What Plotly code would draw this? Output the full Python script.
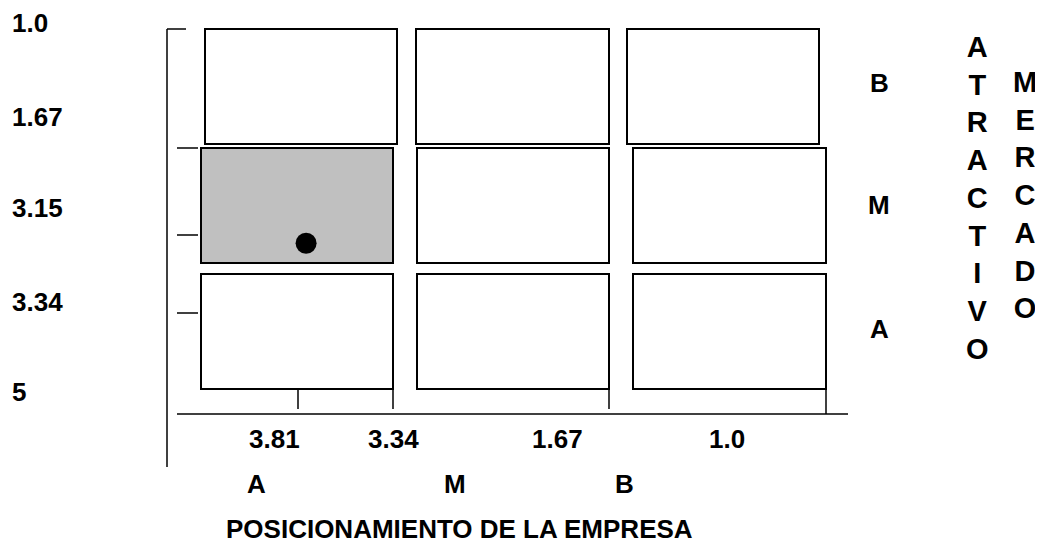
import plotly.graph_objects as go
import numpy as np

# ---------------- data ----------------
pos_tick_labels = ["3.81", "3.34", "1.67", "1.0"]      # posicionamiento de la empresa
pos_tick_values = [3.81, 3.34, 1.67, 1.0]
pos_categories = ["A", "M", "B"]
attr_tick_labels = ["1.0", "1.67", "3.15", "3.34", "5"]  # atractivo del mercado
attr_tick_values = [1.0, 1.67, 3.15, 3.34, 5.0]
attr_categories = ["B", "M", "A"]                        # top to bottom
highlight_cell = ("M", "A")                              # (row attractiveness, column position)
company_position = [3.77]
company_attractiveness = [3.17]

# ---------------- layout geometry (styling) ----------------
W, H = 1043, 550
PAGE_OFF = 8  # browser body margin
FONT = "Liberation Sans, Arial, sans-serif"
# pixel positions of the scale ticks
pos_tick_px = [298, 393, 609, 826]
attr_tick_px = [29, 148, 235, 313, 413]
# cell rectangles per row (x0, x1 for each column), row y extents
row_y = [(29, 144), (148, 263), (274, 389)]
row_cols = [
    [(205, 397), (416, 609), (627, 819)],
    [(201, 393), (417, 609), (633, 826)],
    [(201, 393), (417, 609), (633, 826)],
]


def pos_scale(v):
    xs = np.array(pos_tick_values[::-1])
    ps = np.array(pos_tick_px[::-1])
    return float(np.interp(v, xs, ps))


def attr_scale(v):
    return float(np.interp(v, attr_tick_values, attr_tick_px))


fig = go.Figure()
shapes = []
line_c = "black"

# cells
for r, rc in enumerate(attr_categories):
    y0, y1 = row_y[r]
    for c, cc in enumerate(pos_categories):
        x0, x1 = row_cols[r][c]
        fill = "#c0c0c0" if (rc, cc) == highlight_cell else "white"
        shapes.append(dict(type="rect", xref="x", yref="y", x0=x0, x1=x1, y0=y0, y1=y1,
                           line=dict(color=line_c, width=2), fillcolor=fill, layer="below"))

# vertical axis (attractiveness)
shapes.append(dict(type="line", x0=167, x1=167, y0=29, y1=467, line=dict(color=line_c, width=1.5)))
shapes.append(dict(type="line", x0=167, x1=186, y0=attr_tick_px[0], y1=attr_tick_px[0],
                   line=dict(color=line_c, width=1.5)))
for yp in attr_tick_px[1:4]:
    shapes.append(dict(type="line", x0=177, x1=198, y0=yp, y1=yp, line=dict(color=line_c, width=1.5)))

# horizontal axis (position)
shapes.append(dict(type="line", x0=177, x1=848, y0=attr_tick_px[-1] + 1, y1=attr_tick_px[-1] + 1,
                   line=dict(color=line_c, width=1.5)))
for i, xp in enumerate(pos_tick_px):
    y_end = 414 if i == len(pos_tick_px) - 1 else 409
    shapes.append(dict(type="line", x0=xp, x1=xp, y0=389, y1=y_end, line=dict(color=line_c, width=1.5)))

# company point
fig.add_trace(go.Scatter(
    x=[pos_scale(v) for v in company_position],
    y=[attr_scale(v) for v in company_attractiveness],
    mode="markers", marker=dict(size=21, color="black"), showlegend=False, hoverinfo="skip"))

ann = []
tf = dict(family=FONT, size=26, color="black")
# left attractiveness labels
attr_label_px = [23, 117, 208, 302, 392]
for lab, yp in zip(attr_tick_labels, attr_label_px):
    ann.append(dict(x=10, y=yp, text=f"<b>{lab}</b>", xanchor="left", yanchor="middle",
                    showarrow=False, font=tf))
# bottom position labels
pos_label_px = [274, 393, 557, 727]
for lab, xp in zip(pos_tick_labels, pos_label_px):
    ann.append(dict(x=xp, y=439, text=f"<b>{lab}</b>", xanchor="center", yanchor="middle",
                    showarrow=False, font=tf))
# bottom category labels
pos_cat_px = [256, 455, 624]
for lab, xp in zip(pos_categories, pos_cat_px):
    ann.append(dict(x=xp, y=484, text=f"<b>{lab}</b>", xanchor="center", yanchor="middle",
                    showarrow=False, font=tf))
# right category labels
attr_cat_px = [83, 205, 329]
for lab, yp in zip(attr_categories, attr_cat_px):
    ann.append(dict(x=879, y=yp, text=f"<b>{lab}</b>", xanchor="center", yanchor="middle",
                    showarrow=False, font=tf))
# vertical titles
vf = dict(family=FONT, size=29, color="black")
ann.append(dict(x=977, y=198, text="<b>" + "<br>".join("ATRACTIVO") + "</b>", xanchor="center",
                yanchor="middle", showarrow=False, font=vf, align="center"))
ann.append(dict(x=1025, y=195, text="<b>" + "<br>".join("MERCADO") + "</b>", xanchor="center",
                yanchor="middle", showarrow=False, font=vf, align="center"))
# bottom title
ann.append(dict(x=459, y=529, text="<b>POSICIONAMIENTO DE LA EMPRESA</b>", xanchor="center",
                yanchor="middle", showarrow=False, font=dict(family=FONT, size=26, color="black")))

for a in ann:
    a.update(xref="x", yref="y")

fig.update_layout(
    width=W - PAGE_OFF, height=H - PAGE_OFF, margin=dict(l=0, r=0, t=0, b=0),
    paper_bgcolor="white", plot_bgcolor="white",
    xaxis=dict(range=[PAGE_OFF, W], visible=False, fixedrange=True),
    yaxis=dict(range=[H, PAGE_OFF], visible=False, fixedrange=True),
    shapes=shapes, annotations=ann, showlegend=False,
)

fig.write_html("out.html")
